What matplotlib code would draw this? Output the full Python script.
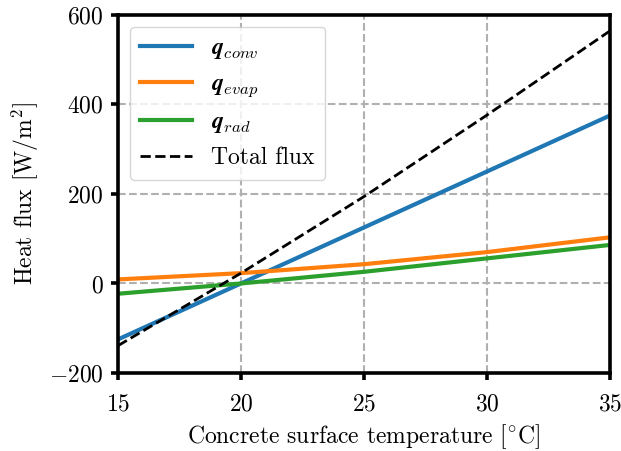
import matplotlib
matplotlib.use("Agg")
import matplotlib.pyplot as plt
import numpy as np

plt.rcParams['font.family'] = 'serif'
plt.rcParams['font.serif'] = ['cmr10']
plt.rcParams['mathtext.fontset'] = 'cm'
plt.rcParams['axes.formatter.use_mathtext'] = True
plt.rcParams['font.size'] = 17

temperature = [15, 20, 25, 30, 35]
q_conv = [-125, 0, 125, 250, 375]
q_evap = [9, 23, 43, 70, 103]
q_rad = [-23, 0, 26, 56, 86]
total = list(np.array(q_conv) + np.array(q_evap) + np.array(q_rad))

fig, ax = plt.subplots(figsize=(6.21, 4.51), dpi=100)
fig.subplots_adjust(left=0.19, right=0.982, top=0.967, bottom=0.173)

ax.plot(temperature, q_conv, color='#1f77b4', lw=3, label=r'$\mathbfit{q}_{conv}$')
ax.plot(temperature, q_evap, color='#ff7f0e', lw=3, label=r'$\mathbfit{q}_{evap}$')
ax.plot(temperature, q_rad, color='#2ca02c', lw=3, label=r'$\mathbfit{q}_{rad}$')
ax.plot(temperature, total, color='black', lw=2, ls='--', label='Total flux')

ax.set_xlim(15, 35)
ax.set_ylim(-200, 600)
ax.set_xticks([15, 20, 25, 30, 35])
ax.set_yticks([-200, 0, 200, 400, 600])
ax.grid(True, color='#b0b0b0', ls='--', lw=1.5)
ax.set_axisbelow(True)
for s in ax.spines.values():
    s.set_linewidth(2.6)
ax.tick_params(width=2.6, length=5, labelsize=17)
ax.tick_params(axis='x', pad=9.5)
ax.tick_params(axis='y', pad=5.5)
ax.set_xlabel(r'Concrete surface temperature [$^{\circ}$C]', fontsize=17, labelpad=5)
ax.set_ylabel(r'Heat flux [W/m$^2$]', fontsize=17, labelpad=5.5)
leg = ax.legend(loc='upper left', fontsize=17, handlelength=2.2, framealpha=0.8,
                borderpad=0.45, labelspacing=0.5, handletextpad=0.8, borderaxespad=0.5)

fig.savefig('out.png', dpi=100)
